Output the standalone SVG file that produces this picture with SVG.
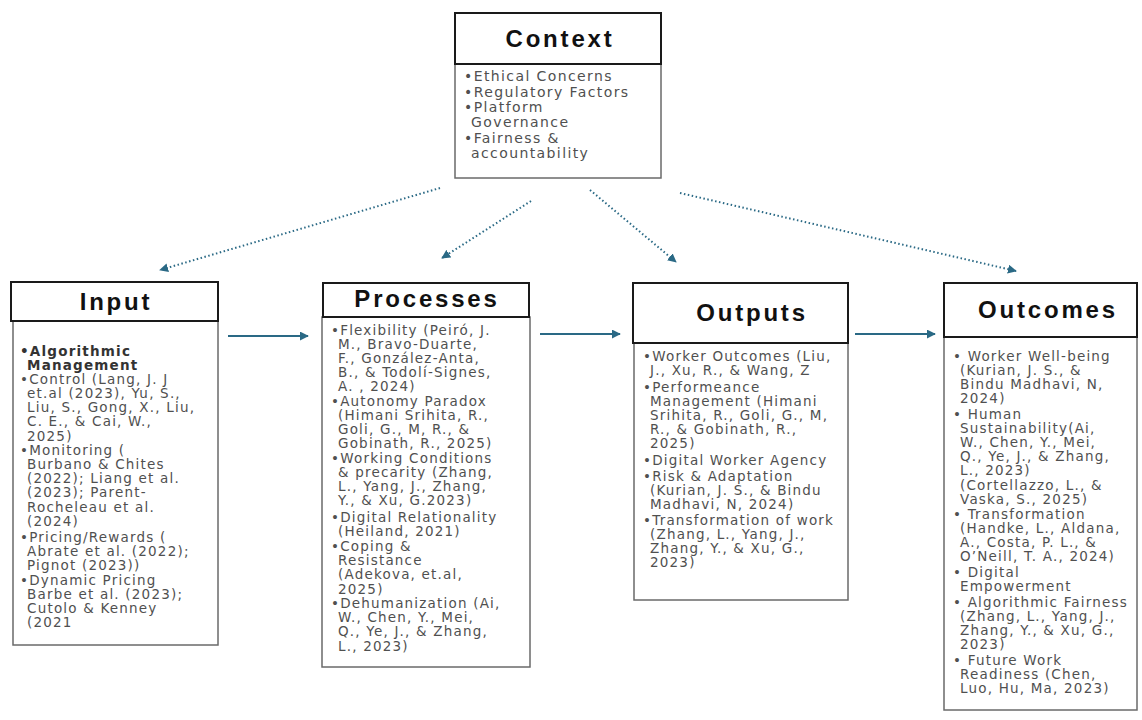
<svg xmlns="http://www.w3.org/2000/svg" width="1142" height="720" viewBox="0 0 1142 720">
<defs>
<marker id="ah" viewBox="0 0 10 10" refX="9" refY="5" markerWidth="9" markerHeight="9" markerUnits="userSpaceOnUse" orient="auto">
<path d="M0,0 L10,5 L0,10 z" fill="#2a6985"/>
</marker>
<style>
.hdr{fill:#fff;stroke:#1a1a1a;stroke-width:2}
.body{fill:#fff;stroke:#6a6a6a;stroke-width:1.5}
.title{font-family:"Liberation Sans",Arial,sans-serif;font-weight:bold;font-size:24px;letter-spacing:2.8px;fill:#111;text-anchor:middle}
.t{font-family:"DejaVu Sans","Liberation Sans",sans-serif;font-size:13.5px;letter-spacing:1.2px;fill:#505050}
.c{font-family:"DejaVu Sans","Liberation Sans",sans-serif;font-size:14px;letter-spacing:1.4px;fill:#505050}
.b{font-weight:bold;fill:#333}
.solid{stroke:#2a6985;stroke-width:1.8;fill:none;marker-end:url(#ah)}
.dot{stroke:#2a6985;stroke-width:2;fill:none;stroke-dasharray:1.5 2.5;marker-end:url(#ah)}
</style>
</defs>
<rect width="1142" height="720" fill="#fff"/>

<g id="context">
<rect class="body" x="455" y="64" width="206" height="114"/>
<rect class="hdr" x="455" y="13" width="206" height="51"/>
<text class="title" x="560" y="47">Context</text>
<text class="c"><tspan x="464" y="81">•Ethical Concerns</tspan><tspan x="464" y="97">•Regulatory Factors</tspan><tspan x="464" y="112">•Platform</tspan><tspan x="471" y="127">Governance</tspan><tspan x="464" y="143">•Fairness &amp;</tspan><tspan x="471" y="158">accountability</tspan></text>
</g>

<g id="input">
<rect class="body" x="13" y="321" width="205" height="324"/>
<rect class="hdr" x="11" y="282" width="207" height="39"/>
<text class="title" x="116" y="310">Input</text>
<text class="t"><tspan x="20" y="356" class="b">•Algorithmic</tspan><tspan x="27" y="370" class="b">Management</tspan><tspan x="20" y="384">•Control (Lang, J. J</tspan><tspan x="27" y="398">et.al (2023), Yu, S.,</tspan><tspan x="27" y="412">Liu, S., Gong, X., Liu,</tspan><tspan x="27" y="426">C. E., &amp; Cai, W.,</tspan><tspan x="27" y="441">2025)</tspan><tspan x="20" y="455">•Monitoring (</tspan><tspan x="27" y="469">Burbano &amp; Chites</tspan><tspan x="27" y="483">(2022); Liang et al.</tspan><tspan x="27" y="497">(2023); Parent-</tspan><tspan x="27" y="512">Rocheleau et al.</tspan><tspan x="27" y="526">(2024)</tspan><tspan x="20" y="542">•Pricing/Rewards (</tspan><tspan x="27" y="556">Abrate et al. (2022);</tspan><tspan x="27" y="570">Pignot (2023))</tspan><tspan x="20" y="585">•Dynamic Pricing</tspan><tspan x="27" y="599">Barbe et al. (2023);</tspan><tspan x="27" y="613">Cutolo &amp; Kenney</tspan><tspan x="27" y="627">(2021</tspan></text>
</g>

<g id="processes">
<rect class="body" x="322" y="317" width="208" height="350"/>
<rect class="hdr" x="323" y="283" width="206" height="34"/>
<text class="title" x="427" y="307">Processes</text>
<text class="t"><tspan x="331" y="335">•Flexibility (Peiró, J.</tspan><tspan x="338" y="349">M., Bravo-Duarte,</tspan><tspan x="338" y="363">F., González-Anta,</tspan><tspan x="338" y="377">B., &amp; Todolí-Signes,</tspan><tspan x="338" y="391">A. , 2024)</tspan><tspan x="331" y="406">•Autonomy Paradox</tspan><tspan x="338" y="420">(Himani Srihita, R.,</tspan><tspan x="338" y="434">Goli, G., M, R., &amp;</tspan><tspan x="338" y="448">Gobinath, R., 2025)</tspan><tspan x="331" y="463">•Working Conditions</tspan><tspan x="338" y="477">&amp; precarity (Zhang,</tspan><tspan x="338" y="491">L., Yang, J., Zhang,</tspan><tspan x="338" y="505">Y., &amp; Xu, G.2023)</tspan><tspan x="331" y="522">•Digital Relationality</tspan><tspan x="338" y="536">(Heiland, 2021)</tspan><tspan x="331" y="551">•Coping &amp;</tspan><tspan x="338" y="565">Resistance</tspan><tspan x="338" y="579">(Adekova, et.al,</tspan><tspan x="338" y="594">2025)</tspan><tspan x="331" y="608">•Dehumanization (Ai,</tspan><tspan x="338" y="622">W., Chen, Y., Mei,</tspan><tspan x="338" y="636">Q., Ye, J., &amp; Zhang,</tspan><tspan x="338" y="651">L., 2023)</tspan></text>
</g>

<g id="outputs">
<rect class="body" x="634" y="343" width="214" height="257"/>
<rect class="hdr" x="633" y="283" width="215" height="60"/>
<text class="title" x="752" y="321">Outputs</text>
<text class="t"><tspan x="643" y="361">•Worker Outcomes (Liu,</tspan><tspan x="650" y="375">J., Xu, R., &amp; Wang, Z</tspan><tspan x="643" y="392">•Performeance</tspan><tspan x="650" y="406">Management (Himani</tspan><tspan x="650" y="420">Srihita, R., Goli, G., M,</tspan><tspan x="650" y="434">R., &amp; Gobinath, R.,</tspan><tspan x="650" y="448">2025)</tspan><tspan x="643" y="465">•Digital Worker Agency</tspan><tspan x="643" y="481">•Risk &amp; Adaptation</tspan><tspan x="650" y="495">(Kurian, J. S., &amp; Bindu</tspan><tspan x="650" y="509">Madhavi, N, 2024)</tspan><tspan x="643" y="525">•Transformation of work</tspan><tspan x="650" y="539">(Zhang, L., Yang, J.,</tspan><tspan x="650" y="553">Zhang, Y., &amp; Xu, G.,</tspan><tspan x="650" y="567">2023)</tspan></text>
</g>

<g id="outcomes">
<rect class="body" x="944" y="337" width="193" height="373"/>
<rect class="hdr" x="944" y="283" width="193" height="54"/>
<text class="title" x="1048" y="318">Outcomes</text>
<text class="t"><tspan x="953" y="361">• Worker Well-being</tspan><tspan x="960" y="375">(Kurian, J. S., &amp;</tspan><tspan x="960" y="389">Bindu Madhavi, N,</tspan><tspan x="960" y="403">2024)</tspan><tspan x="953" y="419">• Human</tspan><tspan x="960" y="433">Sustainability(Ai,</tspan><tspan x="960" y="447">W., Chen, Y., Mei,</tspan><tspan x="960" y="461">Q., Ye, J., &amp; Zhang,</tspan><tspan x="960" y="475">L., 2023)</tspan><tspan x="960" y="490">(Cortellazzo, L., &amp;</tspan><tspan x="960" y="504">Vaska, S., 2025)</tspan><tspan x="953" y="519">• Transformation</tspan><tspan x="960" y="533">(Handke, L., Aldana,</tspan><tspan x="960" y="547">A., Costa, P. L., &amp;</tspan><tspan x="960" y="561">O’Neill, T. A., 2024)</tspan><tspan x="953" y="577">• Digital</tspan><tspan x="960" y="591">Empowerment</tspan><tspan x="953" y="607">• Algorithmic Fairness</tspan><tspan x="960" y="621">(Zhang, L., Yang, J.,</tspan><tspan x="960" y="635">Zhang, Y., &amp; Xu, G.,</tspan><tspan x="960" y="649">2023)</tspan><tspan x="953" y="665">• Future Work</tspan><tspan x="960" y="679">Readiness (Chen,</tspan><tspan x="960" y="693">Luo, Hu, Ma, 2023)</tspan></text>
</g>

<g id="connectors">
<line class="dot" x1="440" y1="188" x2="160" y2="270"/>
<line class="dot" x1="531" y1="201" x2="442" y2="258"/>
<line class="dot" x1="590" y1="190" x2="676" y2="262"/>
<line class="dot" x1="680" y1="193" x2="1016" y2="271"/>
<line class="solid" x1="228" y1="336" x2="308" y2="336"/>
<line class="solid" x1="540" y1="334" x2="620" y2="334"/>
<line class="solid" x1="855" y1="334" x2="935" y2="334"/>
</g>
</svg>
